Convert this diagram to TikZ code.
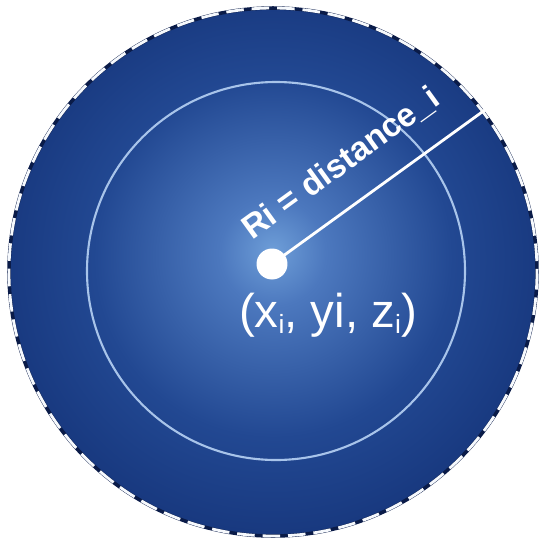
\documentclass[tikz,border=0pt]{standalone}
\usepackage{fontspec}
\setmainfont{Liberation Sans}
\usepackage{tikz}
\usetikzlibrary{positioning,calc}
\definecolor{navyedge}{HTML}{0A1B48}
\definecolor{ringline}{HTML}{A8C4EA}
\pgfdeclareradialshading{sphereblue}{\pgfpoint{0bp}{2bp}}{%
  color(0bp)=(rgb,255:red,110;green,158;blue,216);
  color(5bp)=(rgb,255:red,76;green,120;blue,190);
  color(17bp)=(rgb,255:red,34;green,72;blue,146);
  color(32bp)=(rgb,255:red,17;green,46;blue,114);
  color(50bp)=(rgb,255:red,18;green,48;blue,120)}
\newcommand{\isub}{\raisebox{-0.12em}{\fontsize{15}{15}\selectfont i}}
\tikzset{
spherefill/.style={shading=sphereblue},
innerring/.style={draw=ringline,line width=1.2pt},
rimdash/.style={draw=white!90!ringline,line width=1.6pt,dash pattern=on 10pt off 4.5pt},
centredot/.style={circle,fill=white,minimum size=0.62cm,inner sep=0pt},
radline/.style={draw=white,line width=1.6pt},
lbl/.style={text=white,font=\fontsize{19}{22}\selectfont\bfseries},
coordlbl/.style={text=white,font=\fontsize{27}{32}\selectfont}
}

\begin{document}
\begin{tikzpicture}[x=0.02cm,y=-0.02cm]
\useasboundingbox (0,0) rectangle (545,545);
\coordinate (c) at (273,272);
\fill[spherefill] (c) circle[radius=264];
\draw[navyedge,line width=2pt] (c) circle[radius=264];
\draw[rimdash] (c) circle[radius=264];
\draw[innerring] (276,271) circle[radius=189];
\node[centredot](dot) at (272,264){};
\coordinate (rim) at (489,107);
\draw[radline](dot.center)--node[lbl,sloped,pos=0.43,above=11pt]{Ri = distance\_i}(rim);
\node[coordlbl,below=0.15cm of dot,xshift=1.12cm](xyz){(x\isub, yi, z\isub)};
\end{tikzpicture}
\end{document}
